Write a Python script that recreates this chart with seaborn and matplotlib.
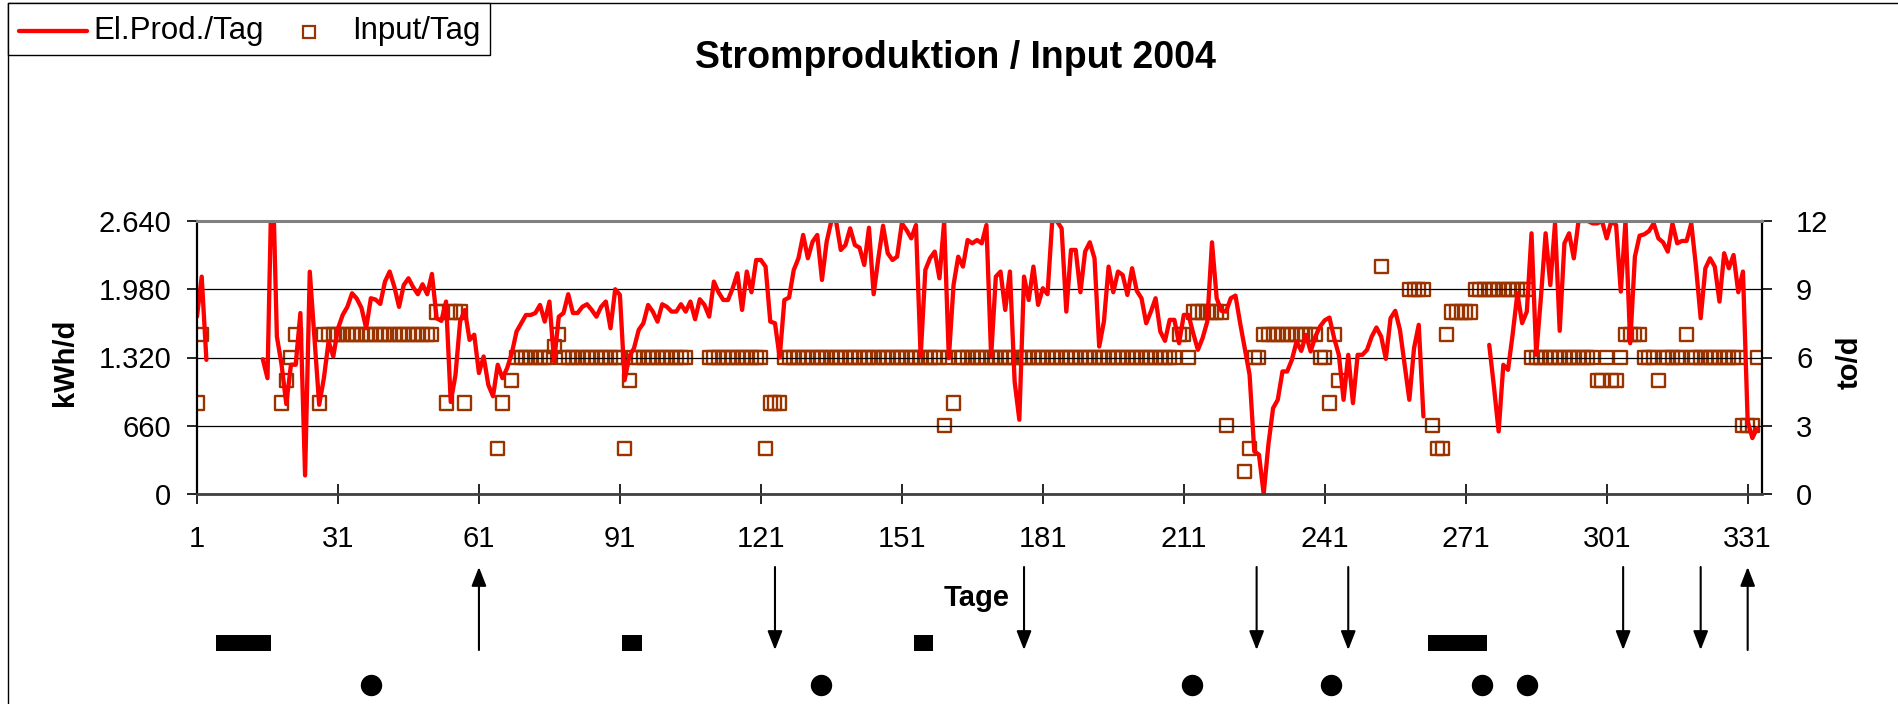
import numpy as np
import pandas as pd
import matplotlib
matplotlib.use("Agg")
import matplotlib.pyplot as plt
import seaborn as sns
from matplotlib.transforms import blended_transform_factory
from matplotlib.patches import Rectangle
from matplotlib.lines import Line2D

N = None
# ---------------- data ----------------
DAYS = list(range(1, 334))

EL_PROD = [
    1716, 2102, 1297, N, N, N, N, N, N, N,
    N, N, N, N, 1304, 1120, 3300, 1523, 1250, 870,
    1250, 1250, 1750, 180, 2150, 1500, 863, 1120, 1475, 1330,
    1600, 1731, 1810, 1941, 1890, 1800, 1603, 1893, 1880, 1838,
    2054, 2151, 2004, 1810, 2021, 2086, 2000, 1932, 2028, 1932,
    2128, 1700, 1674, 1861, 890, 1150, 1670, 1780, 1490, 1540,
    1170, 1330, 1055, 945, 1250, 1120, 1217, 1362, 1571, 1652,
    1731, 1731, 1750, 1828, 1667, 1861, 1281, 1715, 1750, 1932,
    1750, 1750, 1810, 1835, 1780, 1715, 1810, 1861, 1603, 1980,
    1925, 1100, 1330, 1410, 1587, 1652, 1828, 1764, 1667, 1835,
    1810, 1764, 1764, 1835, 1764, 1861, 1690, 1883, 1828, 1715,
    2054, 1950, 1876, 1876, 1990, 2134, 1780, 2151, 1951, 2263,
    2263, 2199, 1667, 1652, 1320, 1876, 1900, 2167, 2280, 2505,
    2280, 2440, 2505, 2070, 2440, 2640, 2640, 2360, 2408, 2569,
    2408, 2382, 2215, 2575, 1932, 2280, 2594, 2328, 2263, 2295,
    2617, 2553, 2472, 2601, 1330, 2167, 2280, 2344, 2086, 2633,
    1313, 2021, 2295, 2199, 2456, 2424, 2456, 2424, 2601, 1330,
    2102, 2151, 1780, 2151, 1088, 718, 2102, 1876, 2199, 1829,
    1990, 1932, 2640, 2640, 2569, 1764, 2360, 2360, 1951, 2344,
    2434, 2279, 1426, 1667, 2199, 1951, 2151, 2118, 1925, 2183,
    1964, 1893, 1651, 1764, 1893, 1571, 1481, 1684, 1684, 1458,
    1732, 1732, 1555, 1394, 1507, 1667, 2434, 1893, 1771, 1764,
    1893, 1919, 1651, 1400, 1153, 412, 380, 0, 476, 830,
    911, 1185, 1185, 1297, 1475, 1384, 1539, 1378, 1523, 1620,
    1680, 1706, 1507, 1346, 911, 1346, 879, 1346, 1346, 1394,
    1523, 1610, 1523, 1307, 1700, 1771, 1587, 1249, 911, 1410,
    1636, 750, N, N, N, N, N, N, N, N,
    N, N, N, N, N, 1442, 1040, 605, 1249, 1201,
    1550, 1941, 1652, 1764, 2521, 1346, 1900, 2521, 2021, 2617,
    1578, 2424, 2521, 2279, 2640, 2640, 2640, 2617, 2617, 2640,
    2472, 2640, 2601, 1957, 2640, 1458, 2295, 2498, 2511, 2543,
    2617, 2472, 2434, 2344, 2617, 2424, 2447, 2447, 2617, 2200,
    1700, 2183, 2279, 2199, 1861, 2328, 2183, 2311, 1951, 2151,
    702, 541, 637,
]

INPUT = [
    4, 7, N, N, N, N, N, N, N, N,
    N, N, N, N, N, N, N, N, 4, 5,
    6, 7, N, N, N, N, 4, 7, 7, 7,
    7, 7, 7, 7, 7, 7, 7, 7, 7, 7,
    7, 7, 7, 7, 7, 7, 7, 7, 7, 7,
    7, 8, 8, 4, 8, 8, 8, 4, N, N,
    N, N, N, N, 2, 4, N, 5, 6, 6,
    6, 6, 6, 6, 6, 6, 6.5, 7, 6, 6,
    6, 6, 6, 6, 6, 6, 6, 6, 6, 6,
    6, 2, 5, 6, 6, 6, 6, 6, 6, 6,
    6, 6, 6, 6, 6, N, N, N, N, 6,
    6, 6, 6, 6, 6, 6, 6, 6, 6, 6,
    6, 2, 4, 4, 4, 6, 6, 6, 6, 6,
    6, 6, 6, 6, 6, 6, 6, 6, 6, 6,
    6, 6, 6, 6, 6, 6, 6, 6, 6, 6,
    6, 6, 6, 6, 6, 6, 6, 6, 6, 3,
    6, 4, 6, 6, 6, 6, 6, 6, 6, 6,
    6, 6, 6, 6, 6, 6, 6, 6, 6, 6,
    6, 6, 6, 6, 6, 6, 6, 6, 6, 6,
    6, 6, 6, 6, 6, 6, 6, 6, 6, 6,
    6, 6, 6, 6, 6, 6, 6, 6, 6, 7,
    7, 6, 8, 8, 8, 8, 8, 8, 8, 3,
    N, N, N, 1, 2, 6, 6, 7, 7, 7,
    7, 7, 7, 7, 7, 7, 7, 7, 7, 6,
    6, 4, 7, 5, N, N, N, N, N, N,
    N, N, 10, N, N, N, N, N, 9, 9,
    9, 9, N, 3, 2, 2, 7, 8, 8, 8,
    8, 8, 9, 9, 9, 9, 9, 9, 9, 9,
    9, 9, 9, 9, 6, 6, 6, 6, 6, 6,
    6, 6, 6, 6, 6, 6, 6, 6, 5, 5,
    6, 5, 5, 6, 7, 7, 7, 7, 6, 6,
    6, 5, 6, 6, 6, 6, 6, 7, 6, 6,
    6, 6, 6, 6, 6, 6, 6, 6, 6, 3,
    3, 3, 6,
]

X_TICKS = [1, 31, 61, 91, 121, 151, 181, 211, 241, 271, 301, 331]
Y_LEFT_TICKS = [0, 660, 1320, 1980, 2640]
Y_LEFT_LABELS = ["0", "660", "1.320", "1.980", "2.640"]
Y_RIGHT_TICKS = [0, 3, 6, 9, 12]
SERIES_NAMES = ["El.Prod./Tag", "Input/Tag"]

# event markers below the chart (day positions)
ARROWS_DOWN = [124, 177, 226.5, 246, 304.5, 321]
ARROWS_UP = [61, 331]
BARS_START = [5.1, 91.5, 153.6, 262.9]
BARS_END = [16.7, 95.6, 157.7, 275.5]
DOTS = [38, 133.7, 212.8, 242.4, 274.5, 284.1]

# ---------------- figure ----------------
sns.set_theme(style="white")
plt.rcParams["font.family"] = ["Liberation Sans", "DejaVu Sans"]
plt.rcParams["text.color"] = "black"
plt.rcParams["axes.labelcolor"] = "black"
plt.rcParams["xtick.color"] = "black"
plt.rcParams["ytick.color"] = "black"

W, H = 1898, 704
fig = plt.figure(figsize=(W / 100, H / 100), dpi=100)
fx = lambda px: px / W
fy = lambda px: 1 - px / H

ax_l, ax_r, ax_t, ax_b = 197, 1762, 221, 494
ax = fig.add_axes([fx(ax_l), fy(ax_b), fx(ax_r - ax_l), (ax_b - ax_t) / H])
ax2 = ax.twinx()

df = pd.DataFrame({"Tag": DAYS, "El": EL_PROD, "Input": INPUT}).astype(float)
df["seg"] = df["El"].isna().cumsum()
line_df = df.dropna(subset=["El"])
sq_df = df.dropna(subset=["Input"])

RED = "#FF0000"
BROWN = "#993300"
LINE_W = 3.1
SQ_S = 88
SQ_LW = 1.7

sns.scatterplot(data=sq_df, x="Tag", y="Input", marker="s", s=SQ_S,
                facecolor="none", edgecolor=BROWN, linewidth=SQ_LW,
                ax=ax2, legend=False)
sns.lineplot(data=line_df, x="Tag", y="El", units="seg", estimator=None,
             color=RED, lw=LINE_W, ax=ax, legend=False)

ax.set_zorder(ax2.get_zorder() + 1)
ax.patch.set_visible(False)

ax.set_xlim(1, 334.05)
ax.set_ylim(0, 2640)
ax2.set_ylim(0, 12)

ax.set_xticks(X_TICKS)
ax.set_xticklabels([str(t) for t in X_TICKS])
ax.set_yticks(Y_LEFT_TICKS)
ax.set_yticklabels(Y_LEFT_LABELS)
ax2.set_yticks(Y_RIGHT_TICKS)
ax2.set_yticklabels([str(t) for t in Y_RIGHT_TICKS])

ax.set_xlabel("")
ax.set_ylabel("")
ax2.set_ylabel("")

ax.yaxis.grid(True, color="black", lw=0.9)
ax.xaxis.grid(False)
ax2.grid(False)

ax.spines["left"].set_color("black"); ax.spines["left"].set_linewidth(1.6)
ax.spines["bottom"].set_color("#404040"); ax.spines["bottom"].set_linewidth(2.0)
ax.spines["top"].set_color("#808080"); ax.spines["top"].set_linewidth(2.2)
ax.spines["right"].set_visible(False)
for s in ["left", "top", "bottom"]:
    ax2.spines[s].set_visible(False)
ax2.spines["right"].set_color("black"); ax2.spines["right"].set_linewidth(1.6)

ax.tick_params(axis="y", direction="out", length=7.5, width=1.2, labelsize=21,
               pad=11, colors="black", left=True)
ax.tick_params(axis="x", direction="inout", length=14, width=1.2, labelsize=21,
               pad=15, colors="black", bottom=True)
ax2.tick_params(axis="y", direction="out", length=7.5, width=1.2, labelsize=21,
                pad=17, colors="black", right=True)

# ---------------- texts ----------------
fig.text(fx(956), fy(58), "Stromproduktion / Input 2004", ha="center", va="center",
         fontsize=27, fontweight="bold")
fig.text(fx(977), fy(598), "Tage", ha="center", va="center", fontsize=21,
         fontweight="bold")
fig.text(fx(65), fy(362), "kWh/d", ha="center", va="center", rotation=90,
         fontsize=21, fontweight="bold")
fig.text(fx(1850), fy(362), "to/d", ha="center", va="center", rotation=90,
         fontsize=21, fontweight="bold")

# ---------------- legend (drawn box at top-left) ----------------
fig.add_artist(Rectangle((fx(8), fy(55)), fx(490 - 8), fy(3) - fy(55),
                         transform=fig.transFigure, facecolor="white",
                         edgecolor="black", lw=1.0, zorder=5))
fig.add_artist(Line2D([fx(19), fx(87)], [fy(31), fy(31)], transform=fig.transFigure,
                      color=RED, lw=LINE_W, solid_capstyle="round", zorder=6))
fig.text(fx(93), fy(31), SERIES_NAMES[0], ha="left", va="center", fontsize=22.5,
         zorder=6)
fig.add_artist(Line2D([fx(309)], [fy(32)], transform=fig.transFigure, marker="s",
                      ls="none", ms=8, mfc="none", mec=BROWN, mew=1.6, zorder=6))
fig.text(fx(352), fy(31), SERIES_NAMES[1], ha="left", va="center", fontsize=22.5,
         zorder=6)

# outer chart frame (left and top edges)
fig.add_artist(Line2D([fx(8), fx(8)], [0, fy(3)], transform=fig.transFigure,
                      color="black", lw=1.0))
fig.add_artist(Line2D([fx(8), 1], [fy(3), fy(3)], transform=fig.transFigure,
                      color="black", lw=1.0))

# ---------------- event markers ----------------
trans = blended_transform_factory(ax.transData, fig.transFigure)
astyle = "-|>,head_length=1.15,head_width=0.45"
for d in ARROWS_DOWN:
    ax.annotate("", xy=(d, fy(650)), xytext=(d, fy(567)), xycoords=trans,
                textcoords=trans, annotation_clip=False,
                arrowprops=dict(arrowstyle=astyle, color="black", lw=1.5,
                                shrinkA=0, shrinkB=0, mutation_scale=10))
for d in ARROWS_UP:
    ax.annotate("", xy=(d, fy(567)), xytext=(d, fy(650)), xycoords=trans,
                textcoords=trans, annotation_clip=False,
                arrowprops=dict(arrowstyle=astyle, color="black", lw=1.5,
                                shrinkA=0, shrinkB=0, mutation_scale=10))
for x0, x1 in zip(BARS_START, BARS_END):
    fig.add_artist(Rectangle((x0, fy(651)), x1 - x0, fy(635) - fy(651),
                             transform=trans, color="black", lw=0))
fig.add_artist(Line2D(DOTS, [fy(685)] * len(DOTS), transform=trans, marker="o",
                      ls="none", ms=14.4, color="black"))

fig.savefig("out.png", dpi=100)
